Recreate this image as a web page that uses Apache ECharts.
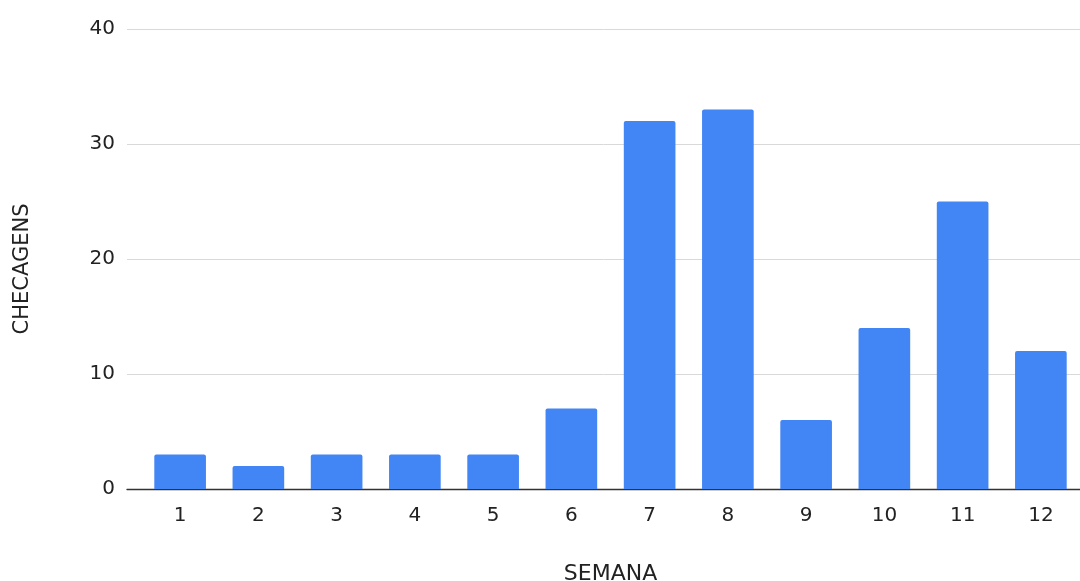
<!DOCTYPE html>
<html>
<head>
<meta charset="utf-8">
<script src="https://cdn.jsdelivr.net/npm/echarts@6/dist/echarts.min.js"></script>
<style>html,body{margin:0;padding:0;background:#fff}#c{width:1080px;height:581px}</style>
</head>
<body>
<div id="c"></div>
<script>
const categories = ['1','2','3','4','5','6','7','8','9','10','11','12'];
const checagens = [3, 2, 3, 3, 3, 7, 32, 33, 6, 14, 25, 12];
const yTicks = [0, 10, 20, 30, 40];

const font = 'DejaVu Sans, sans-serif';
const chart = echarts.init(document.getElementById('c'), null, {renderer: 'canvas'});
chart.setOption({
  animation: false,
  backgroundColor: '#ffffff',
  grid: [
    {left: 141, width: 939, top: 29, bottom: 92, containLabel: false, outerBoundsMode: 'none'},
    {left: 127, right: 0, top: 29, bottom: 92, containLabel: false, outerBoundsMode: 'none'}
  ],
  xAxis: [
    {
      gridIndex: 0, type: 'category', data: categories,
      axisLine: {show: false}, axisTick: {show: false},
      axisLabel: {color: '#222', fontFamily: font, fontSize: 20, margin: 17},
      name: 'SEMANA', nameLocation: 'middle', nameGap: 74,
      nameTextStyle: {color: '#222', fontFamily: font, fontSize: 22}
    },
    {
      gridIndex: 1, type: 'value', min: 0, max: 1,
      axisLine: {show: true, lineStyle: {color: '#333', width: 1.3}},
      axisTick: {show: false}, axisLabel: {show: false}, splitLine: {show: false}
    }
  ],
  yAxis: [
    {
      gridIndex: 0, type: 'value', min: yTicks[0], max: yTicks[yTicks.length - 1], interval: 10,
      show: false, splitLine: {show: false}
    },
    {
      gridIndex: 1, type: 'value', min: yTicks[0], max: yTicks[yTicks.length - 1], interval: 10,
      axisLine: {show: false}, axisTick: {show: false},
      axisLabel: {color: '#222', fontFamily: font, fontSize: 20, margin: 12},
      splitLine: {show: true, lineStyle: {color: '#d9d9d9', width: 1}},
      name: 'CHECAGENS', nameLocation: 'middle', nameGap: 94, nameRotate: 90,
      nameTextStyle: {color: '#222', fontFamily: font, fontSize: 21, padding: [0, 20, 0, 0]}
    }
  ],
  series: [{
    type: 'bar', xAxisIndex: 0, yAxisIndex: 0,
    data: checagens, barWidth: '66%',
    itemStyle: {color: '#4285F4', borderRadius: [2, 2, 0, 0]}
  }]
});
</script>
</body>
</html>
